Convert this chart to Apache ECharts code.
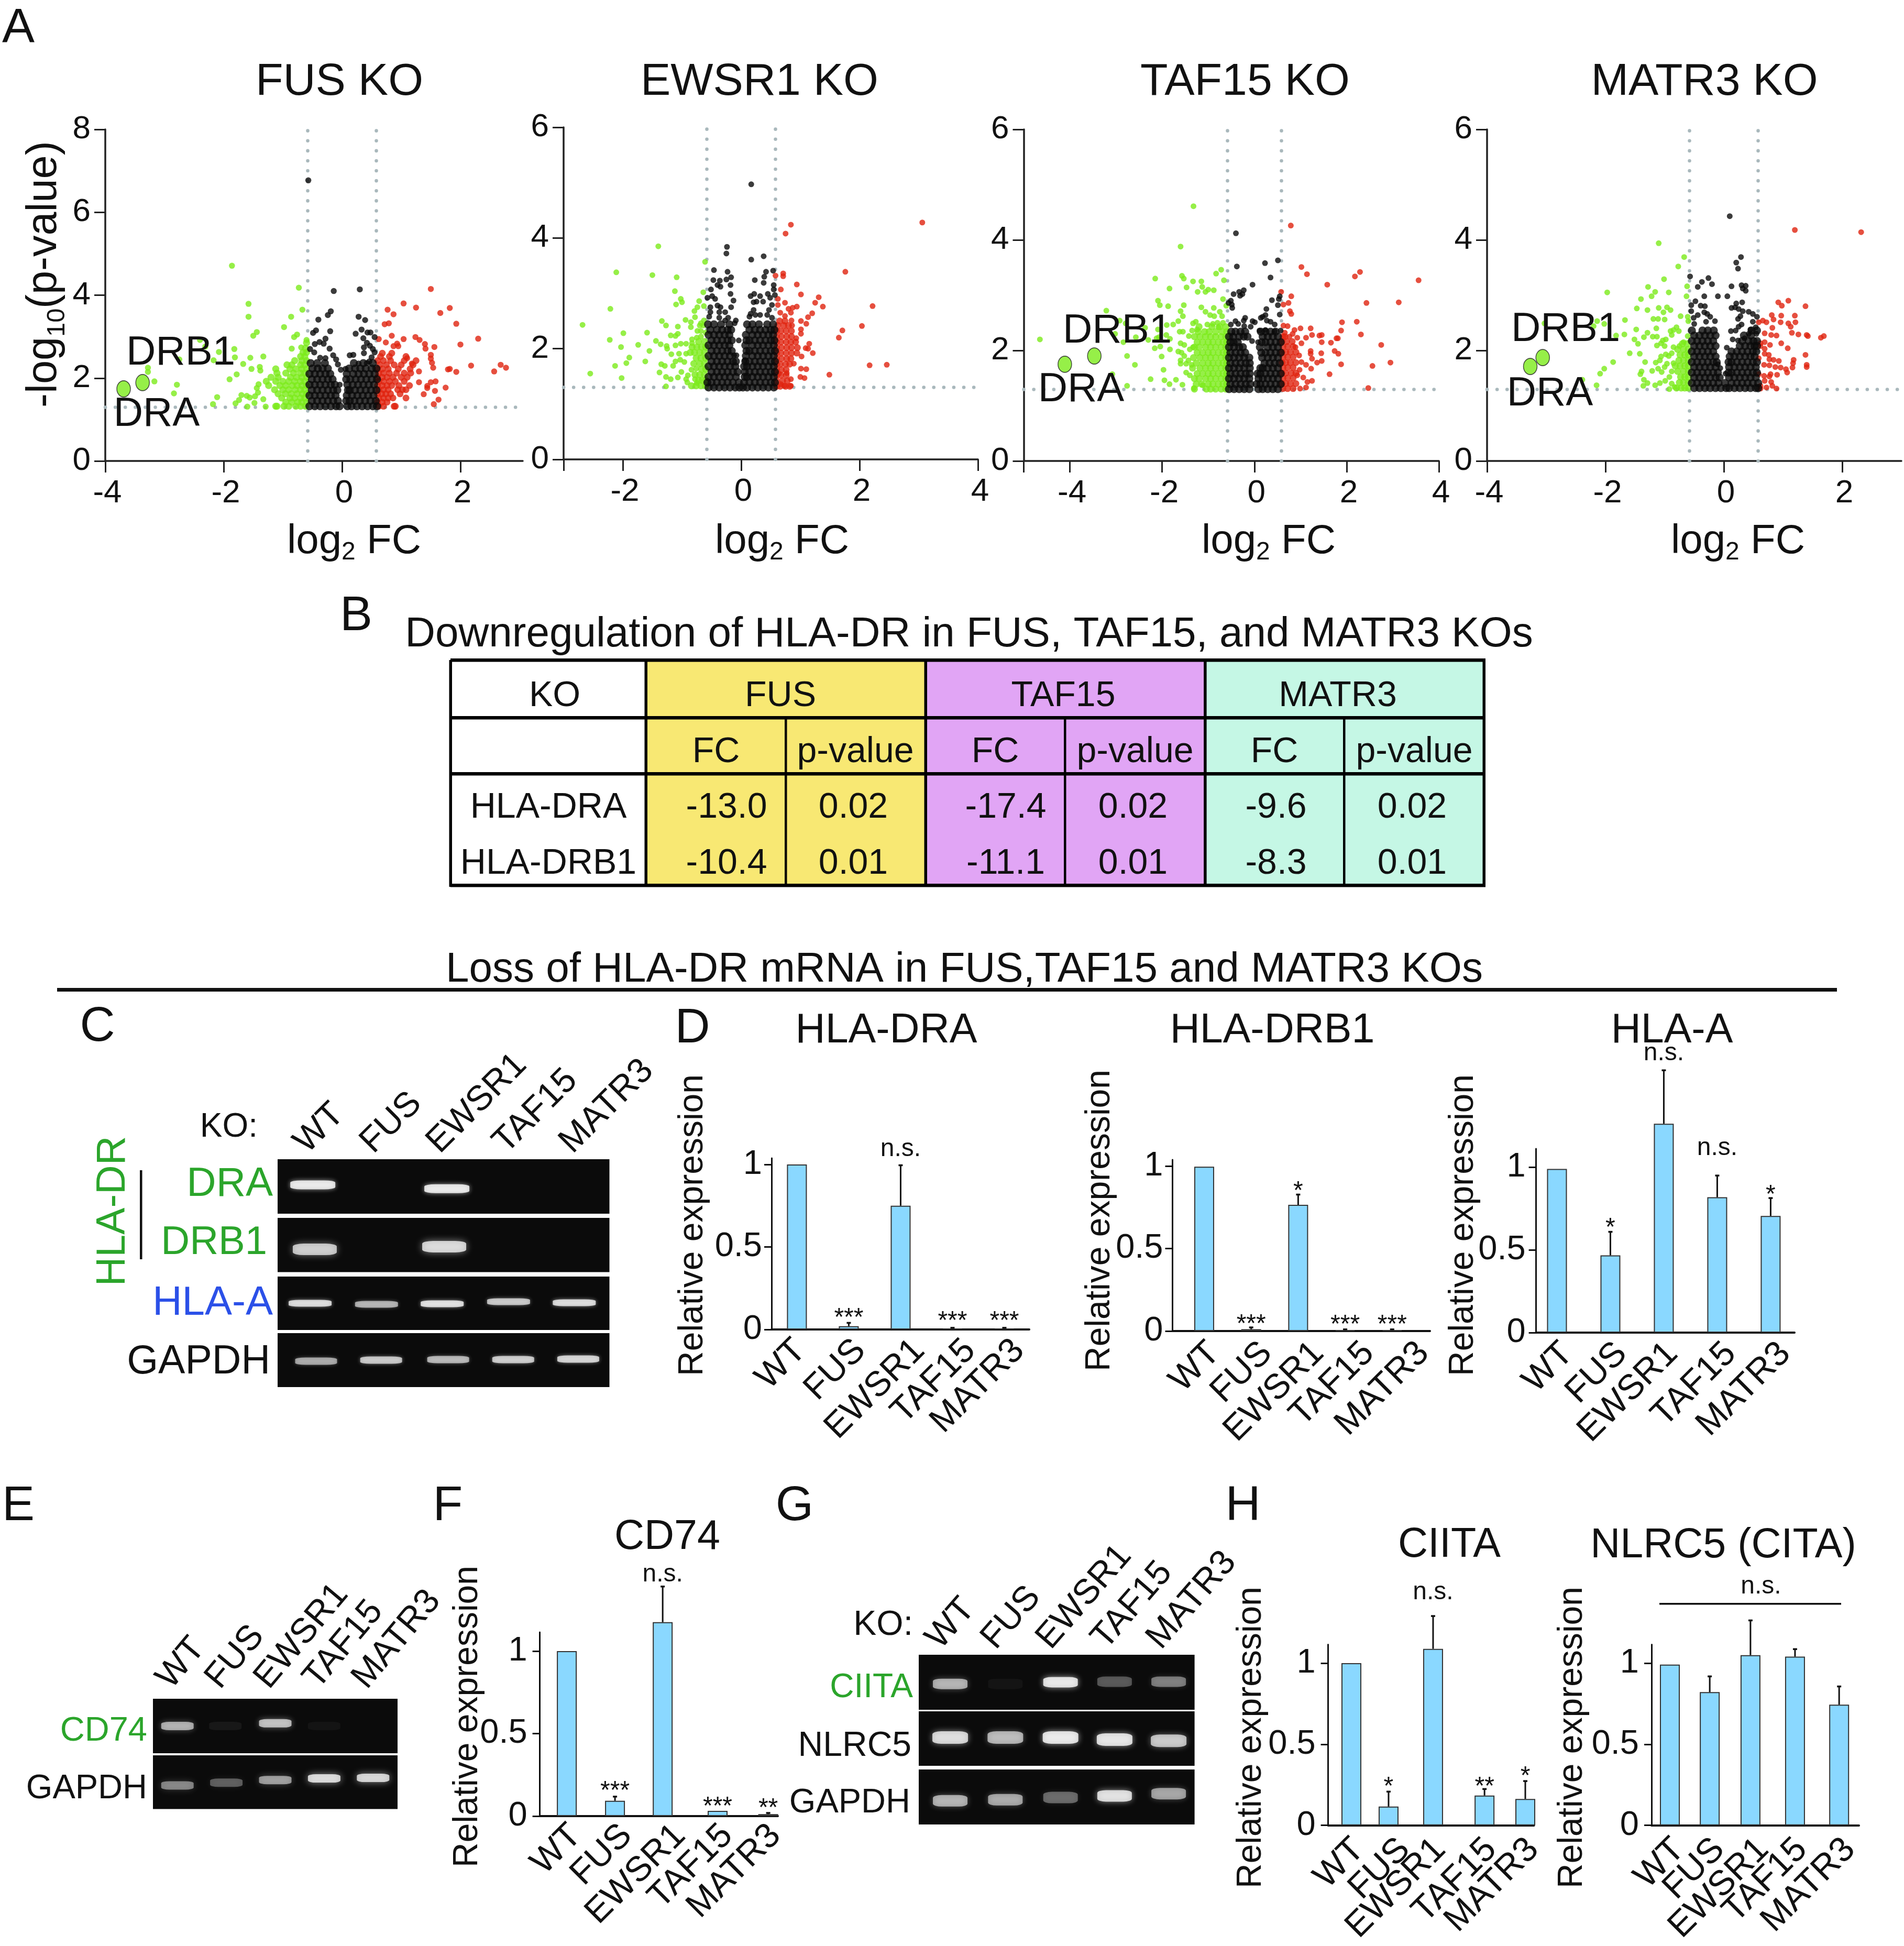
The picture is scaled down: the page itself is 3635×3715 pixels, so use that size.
<!DOCTYPE html>
<html><head><meta charset="utf-8">
<style>html,body{margin:0;padding:0;background:#fff}#c{width:3635px;height:3715px}</style>
<script src="https://cdn.jsdelivr.net/npm/echarts@6/dist/echarts.min.js"></script>
</head><body><div id="c"></div>
<script>
const FONT='"Liberation Sans"';
const laneNames=['WT','FUS','EWSR1','TAF15','MATR3'];
// ---------- volcano data (log2FC, -log10 p)
const fusGreen=[[-1.86,4.71],[-.73,4.18],[-.67,3.65],[-1.58,3.79],[-1.58,3.48],[-.86,3.48],[-.98,3.23],[-1.44,3.11],[-1.5,3.02],[-2.4,2.92],[-.81,2.99],[-.76,3.05],[-.6,2.92],[-.85,2.71],[-.69,2.74],[-1.82,2.7],[-1.81,2.5],[-2.08,2.63],[-2.31,2.76],[-2.17,2.43],[-2.75,2.45],[-1.33,2.52],[-1.55,2.49],[-1.67,2.34],[-3.28,2.25],[-3.28,2.15],[-3.17,1.92],[-2.79,1.84],[-2.84,1.63],[-1.9,1.97],[-1.78,2.09],[-2.11,1.54],[-2.18,1.37],[-1.8,1.39],[-1.74,1.47],[-1.7,1.59],[-1.61,1.57],[-1.56,1.53],[-1.6,1.31],[-1.48,1.4],[-1.47,1.56],[-1.42,1.65],[-1.44,1.76],[-1.41,1.85],[-1.33,1.49],[-1.29,1.31],[-1.53,2.22],[-1.39,2.27],[-1.38,2.18]];
const fusGreenRows=[[1.32,-.62,-.7,-.78,-.9,-.98,-1.1,-1.12],[1.42,-.6,-.68,-.75,-.85,-.95],[1.52,-.63,-.7,-.8,-.88,-1.02],[1.62,-.6,-.67,-.76,-.86,-.96,-1.08],[1.72,-.63,-.7,-.79,-.9,-1,-1.14],[1.82,-.6,-.68,-.76,-.84,-.95,-1.05,-1.24],[1.92,-.63,-.7,-.8,-.9,-1,-1.12,-1.28],[2.02,-.6,-.68,-.77,-.87,-1.08,-1.2],[2.12,-.63,-.7,-.82,-.95,-1.1],[2.22,-.6,-.68,-.78,-.88,-1.12],[2.32,-.63,-.7,-.85,-.93],[2.42,-.6,-.68,-.8],[2.52,-.63,-.7],[2.62,-.6,-.66],[2.72,-.62],[2.85,-.6]];
const fusBlack=[[-.57,6.77],[-.14,4.1],[.3,4.14],[-.19,3.61],[-.24,3.52],[-.4,3.41],[.28,3.48],[.39,3.4],[.33,3.17],[-.2,3.13],[-.44,3.15],[-.49,3.09],[.23,3.07],[.43,3.1],[.48,3.1],[.36,2.96],[.55,2.99],[-.28,2.95],[-.31,2.83],[-.38,2.87],[-.46,2.82],[.42,2.85],[.47,2.78],[.37,2.74],[.52,2.7],[.55,2.62],[-.21,2.71],[-.54,2.7],[-.47,2.62],[-.37,2.49],[-.28,2.48],[-.15,2.55],[-.1,2.45],[-.07,2.33],[-.02,2.2],[.13,2.55],[.19,2.56],[.37,2.6],[.5,2.5],[.46,2.4],[-.04,1.84],[.06,2.22],[.42,2.36],[.28,2.35]];
const fusBlackRows=[[1.32,-.55,-.46,-.37,-.28,-.19,-.1,-.04,.09,.16,.25,.34,.43,.52,.59],[1.45,-.51,-.42,-.33,-.24,-.15,-.07,.07,.13,.21,.3,.39,.48,.57],[1.58,-.55,-.46,-.37,-.28,-.19,-.11,.08,.17,.26,.35,.44,.53],[1.71,-.51,-.42,-.33,-.24,-.15,-.08,.1,.13,.22,.31,.4,.49,.58],[1.84,-.55,-.46,-.37,-.28,-.19,-.12,.09,.18,.27,.36,.45,.54],[1.97,-.51,-.42,-.33,-.24,-.16,.07,.14,.23,.32,.41,.5,.59],[2.1,-.55,-.46,-.37,-.28,-.2,.08,.19,.28,.37,.46,.55],[2.23,-.5,-.41,-.33,-.24,.12,.22,.31,.4,.5,.58],[2.36,-.53,-.42,-.29,.2,.36,.52]];
const fusRed=[[1.5,4.15],[1.04,3.8],[1.25,3.7],[.77,3.65],[.87,3.54],[1.82,3.69],[1.66,3.57],[1.93,3.31],[.79,3.32],[.72,3.3],[.84,3.02],[1.04,2.94],[1.24,2.99],[1.31,2.92],[2.3,2.95],[2,2.81],[1.4,2.82],[1.56,2.75],[1.41,2.71],[.62,2.94],[.74,2.86],[.93,2.83],[.87,2.77],[.95,2.77],[2.68,2.32],[2.77,2.25],[2.57,2.16],[2.18,2.3],[1.82,2.22],[1.79,2.21],[1.93,2.15],[1.5,2.56],[1.5,2.47],[1.52,2.37],[1.54,2.25],[1.3,2.16],[1.5,1.9],[1.58,1.92],[1.44,1.81],[1.44,1.76],[1.75,1.77],[1.57,1.69],[1.38,1.61],[1.63,1.48],[1.55,1.37],[1.3,1.9],[1.18,2.35],[1.1,2.48]];
const fusRedRows=[[1.32,.62,.7,.88,.9],[1.42,.6,.68,.76],[1.52,.62,.7,.78,.86,1.08],[1.62,.6,.67,.74,.82,.98],[1.72,.62,.7,.78,.94,1.02,1.08],[1.82,.6,.68,.76,.84,.96,1.14],[1.92,.62,.7,.8,.9,1.05],[2.02,.6,.68,.76,.86,1,1.1],[2.12,.62,.7,.8,.92,1.05,1.16],[2.22,.6,.68,.78,.95,1.15],[2.32,.64,.75,.88,1,1.2],[2.42,.6,.7,.82,1.05,1.25],[2.52,.65,.8,1.08],[2.6,.68,.84]];
const fusHighlight=[[-3.69,1.74],[-3.37,1.89]];

const ewsGreen=[[-1.4,3.85],[-.61,3.57],[-2.11,3.38],[-1.5,3.33],[-1.09,3.29],[-1.12,3.04],[-.64,3.02],[-1.02,2.9],[-1,2.84],[-1.1,2.8],[-.71,2.86],[-.74,2.75],[-.63,2.77],[-2.21,2.72],[-.79,2.68],[-.78,2.57],[-2.68,2.43],[-1.34,2.5],[-1.27,2.42],[-.94,2.52],[-.85,2.48],[-.85,2.39],[-1.07,2.4],[-.63,2.51],[-.68,2.46],[-.7,2.42],[-.64,2.42],[-1.99,2.28],[-1.59,2.29],[-.74,2.32],[-.68,2.32],[-.6,2.29],[-1.19,2.24],[-1.11,2.23],[-1.07,2.27],[-2.22,2.16],[-1.44,2.14],[-.83,2.17],[-.75,2.2],[-.68,2.22],[-1.36,2.08],[-1.74,2.07],[-2.03,2.03],[-1.11,2.06],[-1.02,2.09],[-.93,2.09],[-.83,2.1],[-1.26,2.05],[-1.25,2],[-1.55,1.96],[-1.18,1.9],[-1.05,1.91],[-.93,1.91],[-1.89,1.84],[-1.62,1.77],[-1.94,1.74],[-2.13,1.69],[-1.35,1.72],[-1.29,1.69],[-1.15,1.69],[-1.11,1.77],[-1.03,1.8],[-.96,1.76],[-2.55,1.55],[-1.38,1.57],[-1.01,1.58],[-.84,1.62],[-.76,1.64],[-2.02,1.47],[-1.27,1.49],[-1.19,1.45],[-1.07,1.48],[-.9,1.52],[-.93,1.45],[-.91,1.39],[-.78,1.45],[-.75,1.38],[-1.27,1.32]];
const ewsGreenRows=[[1.33,-.6,-.68,-.76,-.84],[1.43,-.6,-.66,-.72],[1.53,-.62,-.7,-.78],[1.63,-.6,-.67],[1.73,-.62,-.7,-.8],[1.83,-.6,-.68,-.76],[1.93,-.62,-.7,-.79,-.86],[2.03,-.6,-.67,-.75,-.83],[2.13,-.62,-.72]];
const ewsBlack=[[.17,4.97],[-.24,3.84],[-.25,3.72],[.38,3.67],[.17,3.61],[-.46,3.42],[-.23,3.39],[.42,3.39],[.54,3.41],[-.17,3.29],[.39,3.3],[-.47,3.24],[-.36,3.23],[-.25,3.25],[.23,3.24],[.38,3.19],[-.4,3.15],[-.35,3.12],[-.18,3.15],[.55,3.15],[-.51,3.07],[.55,3.07],[-.18,2.99],[.22,2.99],[.16,2.95],[.45,2.99],[.57,2.97],[-.49,2.95],[.49,2.92],[.32,2.95],[.37,2.85],[.26,2.85],[.21,2.84],[-.57,2.92],[-.44,2.9],[-.13,2.87],[-.4,2.78],[-.35,2.75],[-.17,2.75],[-.52,2.75],[.52,2.79],[.21,2.7],[-.52,2.66],[-.37,2.66],[-.27,2.66],[.47,2.7],[.16,2.63],[.32,2.61],[.24,2.61],[.44,2.61],[.14,2.58],[.52,2.56],[-.54,2.58],[-.37,2.56],[-.22,2.56],[-.09,2.51],[-.11,2.46],[-.27,2.51],[-.04,2.15],[.06,1.79],[-.08,1.88],[-.12,1.88]];
const ewsBlackRows=[[1.3,-.55,-.46,-.37,-.28,-.19,-.1,-.03,.03,.1,.19,.28,.37,.46,.55],[1.39,-.57,-.5,-.41,-.32,-.23,-.14,-.04,.05,.14,.23,.32,.41,.5,.57],[1.49,-.55,-.46,-.37,-.28,-.19,-.09,.06,.1,.19,.28,.37,.46,.55],[1.58,-.5,-.41,-.32,-.23,-.14,-.06,.06,.14,.23,.32,.41,.5,.57],[1.68,-.55,-.46,-.37,-.28,-.19,-.1,.05,.1,.19,.28,.37,.46,.55],[1.77,-.5,-.41,-.32,-.23,-.14,-.09,.07,.14,.23,.32,.41,.5,.57],[1.87,-.55,-.46,-.37,-.28,-.19,.08,.19,.28,.37,.46,.55],[1.96,-.5,-.41,-.32,-.23,-.16,.09,.14,.23,.32,.41,.5,.57],[2.06,-.55,-.46,-.37,-.28,-.2,.07,.19,.28,.37,.46,.55],[2.15,-.5,-.41,-.32,-.23,-.16,.09,.14,.23,.32,.41,.5,.56],[2.25,-.55,-.46,-.37,-.28,-.2,.08,.19,.28,.37,.46,.54],[2.34,-.52,-.41,-.32,-.23,-.17,.14,.23,.32,.41,.5,.56],[2.44,-.56,-.46,-.34,-.2,.1,.19,.3,.44,.54]];
const ewsRed=[[3.06,4.28],[.84,4.24],[.75,4.08],[1.76,3.39],[.58,3.32],[.71,3.36],[.71,3.31],[.94,3.16],[.67,3.07],[1.01,2.98],[1.31,2.93],[1.25,2.83],[1.38,2.76],[2.22,2.77],[.74,2.83],[.62,2.9],[.62,2.79],[.8,2.72],[.87,2.74],[.94,2.76],[.66,2.65],[.84,2.65],[.74,2.59],[1.2,2.64],[1.13,2.57],[1.01,2.5],[1.1,2.45],[.85,2.51],[.86,2.42],[1.01,2.35],[1.01,2.27],[2.04,2.41],[1.71,2.33],[1.65,2.2],[.93,2.19],[1.15,2.09],[1.09,2.01],[1.13,2],[1.21,1.92],[1.02,1.86],[.89,1.73],[1.01,1.64],[1.1,1.63],[2.17,1.7],[2.46,1.71],[1.49,1.53],[1,1.49],[1.07,1.47],[.84,1.45],[.77,1.56],[.64,1.55],[.67,1.36],[.73,1.33],[.84,1.33]];
const ewsRedRows=[[1.32,.6,.66,.75,.82],[1.42,.6,.7,.78],[1.52,.6,.67,.76],[1.62,.6,.68,.76],[1.72,.6,.66,.75,.82],[1.82,.6,.68,.77,.84],[1.92,.6,.67,.76,.85,.94],[2.02,.6,.68,.77,.85,.95],[2.12,.6,.67,.76,.84,.92],[2.22,.6,.68,.77,.85],[2.32,.6,.67,.76,.85],[2.42,.62,.72,.8],[2.5,.65,.74]];

const tafGreen=[[-1.32,4.61],[-1.6,3.88],[-.72,3.46],[-.83,3.39],[-.66,3.27],[-1.57,3.35],[-1.53,3.3],[-1.33,3.25],[-1.15,3.25],[-2.15,3.3],[-1.47,3.14],[-1.13,3.15],[-1.84,3.12],[-1.23,3.06],[-1.06,3.06],[-1,3.1],[-.88,3.09],[-2.09,2.9],[-2.05,2.82],[-1.87,2.8],[-1.53,2.82],[-1.15,2.78],[-.88,2.77],[-.68,2.93],[-.61,2.81],[-1.6,2.71],[-3.21,2.72],[-1.06,2.7],[-1.55,2.62],[-.96,2.64],[-.87,2.62],[-1.65,2.53],[-1.76,2.47],[-1.9,2.46],[-2.79,2.49],[-2.92,2.54],[-2.37,2.41],[-2.09,2.38],[-3.02,2.3],[-4.65,2.2],[-2.57,2.24],[-2.84,2.15],[-2.3,2.19],[-2.12,2.22],[-2.07,2.24],[-1.91,2.28],[-1.83,2.21],[-2.16,2.04],[-2.04,2.07],[-1.83,2.02],[-2.76,1.9],[-2.59,1.74],[-2.01,1.89],[-3.08,1.57],[-1.97,1.65],[-2.25,1.48],[-1.95,1.46],[-1.7,1.47],[-1.84,1.39],[-1.56,1.38],[-2.76,1.36],[-1.48,1.6],[-1.4,1.55],[-1.31,1.32],[-1.12,1.37],[-1.6,2.13],[-1.52,2.1],[-1.62,2.34],[-1.55,2.34],[-1.42,2.26],[-1.65,1.98],[-1.58,1.96],[-1.52,1.9],[-1.6,1.82],[-1.6,1.76],[-1.48,1.76],[-1.36,1.74],[-1.43,1.82],[-1.4,2.02],[-1.33,2.06],[-1.33,2.49],[-1.27,2.52],[-1.35,2.36],[-1.24,2.38],[-.75,2.7],[-.7,2.62],[-.8,2.5],[-.9,2.48],[-1.02,2.47],[-.78,2.42],[-.68,2.5]];
const tafGreenRows=[[1.3,-.62,-.72,-.84,-.95,-1.04,-1.3],[1.39,-.6,-.68,-.78,-.9,-1,-1.14,-1.26],[1.49,-.62,-.72,-.84,-.95,-1.06,-1.2,-1.3],[1.58,-.6,-.68,-.78,-.9,-1,-1.12,-1.24],[1.68,-.62,-.72,-.84,-.95,-1.06,-1.18,-1.34],[1.77,-.6,-.68,-.78,-.9,-1,-1.12,-1.26],[1.87,-.62,-.72,-.84,-.95,-1.06,-1.18,-1.32],[1.96,-.6,-.68,-.78,-.9,-1,-1.12,-1.24],[2.06,-.62,-.72,-.84,-.95,-1.06,-1.2,-1.3],[2.15,-.6,-.68,-.78,-.9,-1,-1.12,-1.24],[2.25,-.62,-.72,-.84,-.95,-1.06,-1.18,-1.3],[2.34,-.6,-.7,-.84,-.98,-1.08,-1.22],[2.43,-.62,-.75,-.92,-1.2]];
const tafBlack=[[-.4,4.12],[-.38,3.52],[.51,3.63],[.23,3.58],[.35,3.32],[-.04,3.19],[-.23,3.09],[-.33,3.06],[-.45,3.02],[-.31,2.99],[-.26,3.02],[.55,2.98],[.53,2.93],[.38,2.91],[-.51,2.9],[-.56,2.86],[-.49,2.83],[-.48,2.77],[.51,2.82],[.26,2.75],[.55,2.65],[.24,2.64],[.18,2.61],[.14,2.59],[-.2,2.59],[-.23,2.54],[-.41,2.53],[.27,2.54],[.35,2.52],[-.04,2.53],[.01,2.51],[-.08,2.43],[.44,2.47],[-.51,2.47],[-.35,2.48],[-.22,2.44],[.11,2.36],[.24,2.37],[.57,2.36],[.44,2.35],[-.05,2.17],[.08,2.15]];
const tafBlackRows=[[1.3,-.55,-.44,-.33,-.22,-.11,.09,.18,.29,.4,.51],[1.39,-.52,-.41,-.3,-.19,-.09,.05,.13,.24,.35,.46,.57],[1.49,-.55,-.44,-.33,-.22,-.11,.09,.18,.29,.4,.51],[1.58,-.52,-.41,-.3,-.19,-.1,.07,.13,.24,.35,.46,.57],[1.68,-.55,-.44,-.33,-.22,-.1,.13,.18,.29,.4,.51],[1.77,-.52,-.41,-.3,-.19,-.1,.22,.33,.44,.55],[1.87,-.55,-.44,-.33,-.22,-.11,.17,.29,.4,.51],[1.96,-.52,-.41,-.3,-.2,.15,.24,.35,.46,.57],[2.06,-.55,-.44,-.33,-.25,.12,.29,.4,.51],[2.15,-.52,-.45,-.36,.16,.24,.35,.46,.57],[2.25,-.55,-.46,-.33,-.23,-.15,.18,.29,.4,.51],[2.34,-.5,-.41,-.3,-.2,.14,.24,.35,.46]];
const tafRed=[[.79,4.26],[1.02,3.51],[1.14,3.38],[2.29,3.42],[2.18,3.34],[3.56,3.27],[1.58,3.19],[.58,3.06],[.8,2.98],[2.43,2.86],[3.13,2.87],[.74,2.86],[.63,2.83],[.77,2.71],[.8,2.66],[1.9,2.51],[2.22,2.52],[.63,2.45],[.72,2.44],[1.88,2.36],[1.22,2.4],[1,2.4],[2.31,2.29],[.87,2.37],[.83,2.3],[1.25,2.28],[1.41,2.27],[1.46,2.28],[.66,2.32],[1.78,2.22],[1.81,2.22],[1.12,2.23],[.76,2.25],[.93,2.23],[1.46,2.15],[1.66,2.14],[2.75,2.1],[1.02,2.13],[.89,2.06],[1.74,1.99],[1.82,1.94],[1.22,1.99],[1.45,1.95],[1.22,1.94],[.97,1.91],[1.88,1.75],[1.46,1.81],[1.36,1.78],[1.25,1.85],[1.12,1.74],[2.95,1.78],[2.56,1.72],[1.23,1.67],[1.02,1.79],[.98,1.65],[1.63,1.57],[.93,1.55],[1.06,1.51],[1.25,1.45],[1.15,1.43],[1.12,1.33],[2.47,1.32],[.99,1.31]];
const tafRedRows=[[1.31,.62,.72,.84],[1.4,.6,.68,.78,.9],[1.5,.62,.72,.84],[1.59,.6,.68,.8,.9],[1.69,.62,.72,.84],[1.78,.6,.68,.78,.9],[1.88,.62,.72,.84],[1.97,.6,.68,.78,.9],[2.07,.62,.72,.84],[2.16,.6,.7,.82],[2.25,.62,.66]];
const tafHighlight=[[-4.11,1.75],[-3.47,1.9]];

const matGreen=[[-1.1,3.94],[-.67,3.69],[-.77,3.52],[-1.01,3.29],[-1.28,3.15],[-.62,3.16],[-1.97,3.05],[-1.16,3.06],[-.93,3.05],[-1.22,2.98],[-.63,2.98],[-1.4,2.93],[-1.1,2.77],[-.96,2.78],[-.9,2.73],[-1.47,2.76],[-1.29,2.73],[-1.02,2.69],[-.73,2.62],[-.61,2.61],[-1.19,2.57],[-1.11,2.57],[-1,2.56],[-1.67,2.55],[-.6,2.53],[-3.03,2.49],[-2.14,2.53],[-2.2,2.44],[-2.02,2.48],[-1.48,2.38],[-1.14,2.4],[-.8,2.42],[-.85,2.37],[-.9,2.35],[-.76,2.35],[-1.29,2.32],[-1.82,2.27],[-1.68,2.29],[-1.35,2.24],[-1.2,2.25],[-1.13,2.25],[-.88,2.28],[-.61,2.26],[-1.51,2.2],[-.98,2.2],[-1.03,2.18],[-1.45,2.12],[-1.13,2.09],[-1.06,2.13],[-1,2.08],[-.68,2.15],[-.85,2.06],[-.75,2.08],[-1.59,1.95],[-1.42,1.94],[-1.87,1.79],[-2.02,1.67],[-2.09,1.58],[-2.39,1.47],[-2.15,1.37],[-1.33,1.79],[-1.15,1.78],[-1.06,1.89],[-1.08,1.82],[-.93,1.9],[-1.21,1.63],[-1.39,1.62],[-1.41,1.57],[-1.11,1.67],[-1.05,1.61],[-1.35,1.47],[-1.29,1.41],[-1.36,1.36],[-1.16,1.37],[-1.08,1.41],[-.99,1.45],[-.92,1.3],[-.88,1.62],[-.96,1.76],[-1,1.7],[-.85,1.77],[-.92,1.52],[-.88,1.4],[-.83,1.34],[-.98,1.93],[-.88,1.95]];
const matGreenRows=[[1.32,-.6,-.66,-.72,-.8],[1.42,-.6,-.68,-.75],[1.52,-.6,-.66,-.73],[1.62,-.6,-.68,-.78],[1.72,-.6,-.66,-.74,-.82],[1.82,-.6,-.68,-.76],[1.92,-.6,-.66,-.74],[2.02,-.6,-.68,-.78],[2.12,-.62,-.7]];
const matBlack=[[.1,4.43],[.29,3.69],[.21,3.59],[.24,3.48],[-.57,3.34],[-.26,3.31],[-.37,3.24],[-.2,3.2],[-.44,3.15],[.13,3.16],[.3,3.18],[.37,3.17],[.32,3.12],[.37,3.08],[-.33,2.98],[-.1,2.98],[.06,2.98],[-.48,2.89],[.31,2.87],[.21,2.85],[-.55,2.82],[-.39,2.81],[-.32,2.8],[.13,2.77],[.19,2.78],[.25,2.75],[-.55,2.71],[-.33,2.69],[.32,2.71],[.42,2.7],[.49,2.66],[.56,2.61],[-.28,2.66],[-.44,2.64],[-.23,2.61],[-.51,2.59],[.28,2.62],[.24,2.57],[-.15,2.53],[.49,2.52],[-.5,2.48],[-.3,2.52],[.3,2.47],[.25,2.43],[.54,2.42],[.45,2.38],[.12,2.35],[.2,2.36],[.55,2.3],[.42,2.3],[.15,2.2],[.24,2.18],[.05,2.05],[.35,2.22],[-.1,1.75],[-.06,1.68],[.03,1.58]];
const matBlackRows=[[1.32,-.5,-.41,-.32,-.23,-.14,-.05,.04,.09,.18,.27,.36,.45,.54,.58],[1.41,-.54,-.45,-.36,-.27,-.18,-.09,.02,.13,.22,.31,.4,.49,.58],[1.51,-.5,-.41,-.32,-.23,-.14,-.07,.09,.18,.27,.36,.45,.54],[1.6,-.54,-.45,-.36,-.27,-.18,-.1,.08,.13,.22,.31,.4,.49,.56],[1.7,-.5,-.41,-.32,-.23,-.14,.09,.18,.27,.36,.45,.54],[1.79,-.54,-.45,-.36,-.27,-.18,-.12,.08,.13,.22,.31,.4,.49,.56],[1.89,-.5,-.41,-.32,-.23,-.14,.1,.18,.27,.36,.45,.52],[1.98,-.54,-.45,-.36,-.27,-.18,.13,.22,.31,.4,.49,.55],[2.08,-.5,-.41,-.32,-.23,-.14,.27,.36,.45,.52,.56],[2.17,-.54,-.45,-.36,-.27,-.18,.31,.42,.5,.56],[2.27,-.5,-.41,-.32,-.23,-.14,.34,.46],[2.36,-.54,-.36,-.27,-.17,.47,.56]];
const matRed=[[1.2,4.18],[2.32,4.14],[1.09,2.9],[.92,2.87],[.98,2.81],[1.38,2.8],[.81,2.64],[.97,2.63],[1.2,2.63],[.84,2.56],[.96,2.51],[1.21,2.51],[1.09,2.49],[1.13,2.43],[.59,2.51],[.66,2.54],[.72,2.51],[.82,2.41],[.69,2.31],[.8,2.28],[.89,2.27],[1.15,2.32],[1.26,2.29],[1.4,2.28],[1.42,2.26],[1.64,2.23],[1.69,2.26],[.62,2.13],[.69,2.15],[.78,2.1],[.97,2.13],[1.08,2.04],[.62,2.08],[.69,2.03],[.69,1.94],[.76,1.92],[1.38,1.92],[.59,1.86],[.77,1.84],[.84,1.83],[.93,1.81],[1.18,1.83],[1.17,1.77],[.68,1.74],[.77,1.73],[.87,1.7],[.96,1.69],[1.4,1.74],[1.4,1.7],[1.05,1.66],[1.16,1.69],[1.07,1.6],[.79,1.57],[.9,1.56],[.77,1.53],[.59,1.57],[.68,1.54],[.69,1.45],[.8,1.43],[.62,1.36],[.72,1.33],[.82,1.36],[.89,1.31],[.62,1.31]];
const matHighlight=[[-3.27,1.71],[-3.06,1.87]];

// ---------- bar data: lane position on the axis, mean, top of error bar, mark above, label nudge
const draPos=[0,1,2,3,4], draVal=[1,.02,.75,.005,.005], draErr=[1,.04,.995,.01,.01], draSig=['','***','n.s.','***','***'], draLift=[0,21,30,24,24], draNudge=[.07,.22,.36,.34,.28];
const drbPos=[0,1,2,3,4], drbVal=[.996,.011,.765,.005,.005], drbErr=[.996,.022,.827,.01,.01], drbSig=['','***','*','***','***'], drbLift=[0,17,18,20,20], drbNudge=[.22,.33,.43,.5,.67];
const hlaPos=[0,1,2,3,4], hlaVal=[.989,.467,1.262,.818,.705], hlaErr=[.989,.609,1.585,.949,.813], hlaSig=['','*','n.s.','n.s.','*'], hlaLift=[0,19,31,51,17], hlaNudge=[.2,.21,.16,.25,.27];
const cd74Pos=[0,1,1.99,3.13,4.18], cd74Val=[1,.093,1.175,.032,.012], cd74Err=[1,.118,1.391,.035,.019], cd74Sig=['','***','n.s.','***','**'], cd74Lift=[0,22,22,18,20], cd74Nudge=[.19,.24,.36,.2,.15];
const ciitaPos=[0,.835,1.835,2.99,3.906], ciitaVal=[1,.116,1.088,.184,.163], ciitaErr=[1,.208,1.29,.224,.273], ciitaSig=['','*','n.s.','**','*'], ciitaLift=[0,21,44,16,20], ciitaNudge=[.17,.36,.16,.15,.18];
const nlrcPos=[0,.94,1.9,2.95,3.99], nlrcVal=[.991,.821,1.049,1.04,.744], nlrcErr=[.991,.918,1.263,1.086,.856], nlrcSig=['','','','',''], nlrcLift=[0,0,0,0,0], nlrcNudge=[.22,.22,.3,.16,.25];

// ---------- gel bands: [lane position, height in the row 0..1, brightness 0..1]
const gelDRA=[[.53,.53,1],[2.55,.46,1]];
const gelDRB1=[[.56,.42,.85],[2.51,.47,.92]];
const gelHLAA=[[.49,.5,.92],[1.49,.48,.72],[2.48,.49,.95],[3.48,.53,.82],[4.47,.51,.92]];
const gelGAPDH=[[.58,.48,.68],[1.56,.5,.82],[2.57,.51,.74],[3.55,.51,.84],[4.53,.52,.88]];
const gelCD74=[[.5,.5,.72],[1.48,.5,.07],[2.5,.55,.8],[3.5,.5,.05]];
const gelCD74G=[[.5,.44,.55],[1.5,.49,.38],[2.5,.54,.65],[3.5,.57,.95],[4.5,.58,.92]];
const gelCIITA=[[.57,.47,.72],[1.57,.47,.05],[2.57,.5,1],[3.55,.51,.35],[4.53,.51,.5]];
const gelNLRC5=[[.57,.52,.92],[1.57,.52,.75],[2.57,.52,1],[3.55,.48,.98],[4.53,.46,.82]];
const gelGAPDH2=[[.57,.43,.72],[1.57,.45,.68],[2.57,.49,.42],[3.55,.52,.95],[4.53,.56,.66]];

// ---------- table B
const tableHeads=['KO','FUS','TAF15','MATR3'];
const tableSub=['FC','p-value','FC','p-value','FC','p-value'];
const tableRowNames=['HLA-DRA','HLA-DRB1'];
const tableDRA=['-13.0','0.02','-17.4','0.02','-9.6','0.02'];
const tableDRB1=['-10.4','0.01','-11.1','0.01','-8.3','0.01'];

const fromRows=r=>r.flatMap(([y,...xs])=>xs.map(x=>[x,y]));
const C={green:'#7CEB1A',black:'#0A0A0A',red:'#E0230F',grey:'#A9B8BC',bar:'#8AD8FF',ink:'#111'};
const grids=[],xAxes=[],yAxes=[],series=[],gfx=[];
function T(text,x,y,size,o={}){const r=o.rot||0;gfx.push({type:'text',z:100,x:r?x+5:x,y:r?y:y+5,rotation:r,silent:true,style:{text,x:0,y:0,fontSize:size,fontFamily:FONT,fill:o.fill||C.ink,textAlign:o.align||'center',textVerticalAlign:'middle'}});}
function R(x,y,w,h,fill){gfx.push({type:'rect',z:99,silent:true,shape:{x,y,width:w,height:h},style:{fill}});}
function addGrid(l,t,w,h,extra={}){grids.push(Object.assign({left:l,top:t,width:w,height:h,containLabel:false},extra));return grids.length-1;}
const axisLine={show:true,onZero:false,lineStyle:{color:'#222',width:3.5}};

function volcano(p){
 const g=addGrid(p.left,p.top,p.width,p.height);
 xAxes.push({type:'value',gridIndex:g,min:p.xMin,max:p.xMax,splitLine:{show:false},axisLine,
  axisTick:{length:22,lineStyle:{color:'#222',width:3},customValues:p.xTicks},
  axisLabel:{customValues:p.xLabels,fontSize:62,fontFamily:FONT,color:C.ink,margin:31,padding:[0,0,0,8],showMinLabel:true,showMaxLabel:true,formatter:v=>String(v)}});
 yAxes.push({type:'value',gridIndex:g,min:0,max:p.yMax,interval:2,splitLine:{show:false},axisLine,
  axisTick:{length:21,lineStyle:{color:'#222',width:3}},
  axisLabel:{fontSize:62,fontFamily:FONT,color:C.ink,margin:28,padding:[0,0,16,0]}});
 const base={type:'scatter',xAxisIndex:g,yAxisIndex:g,symbolSize:p.dot||11.5,silent:true,z:3};
 series.push({type:'scatter',xAxisIndex:g,yAxisIndex:g,data:[],z:1,silent:true,markLine:{z:1,silent:true,symbol:'none',label:{show:false},
   lineStyle:{color:C.grey,width:6.5,type:[.1,19],cap:'round'},data:[{xAxis:-.58},{xAxis:.58},{yAxis:1.3}]}});
 series.push({...base,name:'down',itemStyle:{color:C.green},data:p.green});
 series.push({...base,name:'down dense',symbolSize:13.5,itemStyle:{color:C.green},data:fromRows(p.greenRows)});
 series.push({...base,name:'up',itemStyle:{color:C.red},data:p.red});
 if(p.redRows)series.push({...base,name:'up dense',symbolSize:13,itemStyle:{color:C.red},data:fromRows(p.redRows)});
 series.push({...base,name:'ns',z:4,itemStyle:{color:C.black},data:p.black});
 series.push({...base,name:'ns dense',z:4,symbolSize:15.5,itemStyle:{color:C.black},data:fromRows(p.blackRows)});
 if(p.hi)series.push({...base,name:'HLA-DR',z:5,symbolSize:[26,31],itemStyle:{color:C.green,borderColor:'#222',borderWidth:1.6},data:p.hi});
}
volcano({left:201,top:247,width:797,height:633,xMin:-4,xMax:3.053,yMax:8,xTicks:[-4,-2,0,2],xLabels:[-4,-2,0,2],
 green:fusGreen,greenRows:fusGreenRows,black:fusBlack,blackRows:fusBlackRows,red:fusRed,redRows:fusRedRows,hi:fusHighlight});
volcano({left:1076,top:243,width:791,height:634,xMin:-3,xMax:4,yMax:6,xTicks:[-3,-2,0,2,4],xLabels:[-2,0,2,4],dot:11,
 green:ewsGreen,greenRows:ewsGreenRows,black:ewsBlack,blackRows:ewsBlackRows,red:ewsRed,redRows:ewsRedRows});
volcano({left:1954.5,top:247,width:792.5,height:633,xMin:-5,xMax:4,yMax:6,xTicks:[-5,-4,-2,0,2,4],xLabels:[-4,-2,0,2,4],dot:11,
 green:tafGreen,greenRows:tafGreenRows,black:tafBlack,blackRows:tafBlackRows,red:tafRed,redRows:tafRedRows,hi:tafHighlight});
volcano({left:2839,top:247,width:791,height:633,xMin:-4,xMax:3,yMax:6,xTicks:[-4,-2,0,2],xLabels:[-4,-2,0,2],dot:11,
 green:matGreen,greenRows:matGreenRows,black:matBlack,blackRows:matBlackRows,red:matRed,hi:matHighlight});

function barPanel(p){
 const g=addGrid(p.left,p.top,p.width,p.height);
 const lp=p.pos.map((x,i)=>x+p.nudge[i]);
 xAxes.push({type:'value',gridIndex:g,min:p.xMin,max:p.xMax,splitLine:{show:false},axisLine:{show:true,onZero:false,lineStyle:{color:'#111',width:4}},
  axisTick:{show:false},
  axisLabel:{customValues:[p.xMin,...lp,p.xMax],rotate:45,fontSize:67,fontFamily:FONT,color:C.ink,margin:p.margin,hideOverlap:false,showMinLabel:false,showMaxLabel:false,formatter:v=>laneNames[lp.findIndex(q=>Math.abs(q-v)<1e-6)]||''}});
 yAxes.push({type:'value',gridIndex:g,min:0,max:p.yMax,splitLine:{show:false},axisLine:{show:true,onZero:false,lineStyle:{color:'#111',width:3}},
  axisTick:{length:14,lineStyle:{color:'#111',width:3},customValues:[0,.5,1]},
  axisLabel:{customValues:[0,.5,1],fontSize:65,fontFamily:FONT,color:C.ink,margin:p.lm||20,padding:[0,0,16,0],showMinLabel:true,showMaxLabel:true,formatter:v=>String(v)}});
 series.push({type:'bar',xAxisIndex:g,yAxisIndex:g,barWidth:38,clip:false,silent:true,z:2,
  itemStyle:{color:C.bar,borderColor:'#333',borderWidth:2},data:p.pos.map((x,i)=>[x,p.val[i]])});
 series.push({type:'custom',xAxisIndex:g,yAxisIndex:g,clip:false,silent:true,z:3,
  encode:{x:0,y:1},data:p.pos.map((x,i)=>[x,p.val[i],p.err[i]]),
  renderItem(params,api){
   const i=params.dataIndex,x=api.value(0),a=api.coord([x,api.value(1)]),b=api.coord([x,api.value(2)]),kids=[];
   if(b[1]<a[1]-1){
    const st={stroke:'#111',lineWidth:3};
    kids.push({type:'line',shape:{x1:a[0],y1:a[1],x2:b[0],y2:b[1]},style:st});
    kids.push({type:'line',shape:{x1:b[0]-4,y1:b[1],x2:b[0]+4,y2:b[1]},style:{stroke:'#111',lineWidth:3.5}});
   }
   const s=p.sig[i];
   if(s){const star=s[0]==='*';
    kids.push({type:'text',style:{text:s,x:b[0],y:b[1]-p.lift[i]+(star?12:-1),textAlign:'center',textVerticalAlign:'middle',fontSize:48,fontFamily:FONT,fill:C.ink}});}
   return {type:'group',children:kids};
  }});
}
barPanel({left:1473,top:2211,width:492,height:327,xMin:-.489,xMax:4.48,yMax:1.038,pos:draPos,val:draVal,err:draErr,sig:draSig,lift:draLift,nudge:draNudge,margin:30,lm:18});
barPanel({left:2238.5,top:2214,width:491.5,height:327,xMin:-.674,xMax:4.805,yMax:1.038,pos:drbPos,val:drbVal,err:drbErr,sig:drbSig,lift:drbLift,nudge:drbNudge,margin:32,lm:18});
barPanel({left:2932.6,top:2193,width:493.4,height:351,xMin:-.391,xMax:4.447,yMax:1.111,pos:hlaPos,val:hlaVal,err:hlaErr,sig:hlaSig,lift:hlaLift,nudge:hlaNudge,margin:30});
barPanel({left:1030.6,top:3116,width:454.4,height:351,xMin:-.56,xMax:4.38,yMax:1.114,pos:cd74Pos,val:cd74Val,err:cd74Err,sig:cd74Sig,lift:cd74Lift,nudge:cd74Nudge,margin:27,lm:24});
barPanel({left:2535.6,top:3139.6,width:392.9,height:351,xMin:-.522,xMax:4.10,yMax:1.114,pos:ciitaPos,val:ciitaVal,err:ciitaErr,sig:ciitaSig,lift:ciitaLift,nudge:ciitaNudge,margin:36,lm:24});
barPanel({left:3153,top:3139.6,width:396,height:351,xMin:-.432,xMax:4.457,yMax:1.114,pos:nlrcPos,val:nlrcVal,err:nlrcErr,sig:nlrcSig,lift:nlrcLift,nudge:nlrcNudge,margin:36,lm:24});

function gel(p){
 const g=addGrid(p.left,p.top,p.width,p.height,{show:true,backgroundColor:'#0b0b0b',borderWidth:0});
 const lab=p.labelShift!==undefined;
 const pos=lab?[0,1,2,3,4].map(i=>i+.5+p.labelShift):[];
 xAxes.push({type:'value',gridIndex:g,min:0,max:5,position:'top',show:lab,splitLine:{show:false},axisLine:{show:false},axisTick:{show:false},
  axisLabel:{show:lab,customValues:lab?[0,...pos,5]:[],rotate:p.rot||45,fontSize:67,fontFamily:FONT,color:C.ink,margin:p.margin||22,hideOverlap:false,showMinLabel:false,showMaxLabel:false,formatter:v=>laneNames[pos.findIndex(q=>Math.abs(q-v)<1e-6)]||''}});
 yAxes.push({type:'value',gridIndex:g,min:0,max:1,show:false,splitLine:{show:false}});
 series.push({type:'scatter',xAxisIndex:g,yAxisIndex:g,silent:true,z:2,symbol:'roundRect',symbolSize:[p.bw,p.bh],
  data:p.bands.map(b=>({value:[b[0],b[1]],itemStyle:{color:`rgba(255,255,255,${b[2]})`,shadowBlur:p.blur||9,shadowColor:`rgba(255,255,255,${b[2]*.75})`}}))});
}
gel({left:530,top:2213,width:633.5,height:104,bands:gelDRA,bw:86,bh:17,labelShift:-.16,margin:22});
gel({left:530,top:2325,width:633.5,height:103.6,bands:gelDRB1,bw:84,bh:22,blur:14});
gel({left:530,top:2437,width:633.5,height:102,bands:gelHLAA,bw:82,bh:13,blur:7});
gel({left:530,top:2545,width:633.5,height:103,bands:gelGAPDH,bw:80,bh:14,blur:7});
gel({left:292,top:3243,width:467,height:104,bands:gelCD74,bw:62,bh:16,blur:12,labelShift:-.28,margin:28,rot:50});
gel({left:292,top:3351,width:467,height:102.5,bands:gelCD74G,bw:62,bh:16,blur:14});
gel({left:1754,top:3159,width:526.6,height:105,bands:gelCIITA,bw:66,bh:20,blur:12,labelShift:-.24,margin:20,rot:49});
gel({left:1754,top:3267,width:526.6,height:104,bands:gelNLRC5,bw:68,bh:24,blur:12});
gel({left:1754,top:3378,width:526.6,height:105,bands:gelGAPDH2,bw:66,bh:22,blur:12});

// ---------- text
[['A',35,50],['B',680,1172],['C',186,1956],['D',1322,1959],['E',35,2871],['F',855,2871],['G',1517,2871],['H',2373,2871]].forEach(a=>T(a[0],a[1],a[2],93));
[['FUS KO',648],['EWSR1 KO',1450],['TAF15 KO',2377],['MATR3 KO',3254]].forEach(a=>T(a[0],a[1],152,86));
function logFC(x){T('log',x,1029,78,{align:'left'});T('2',x+104,1050,48,{align:'left'});T('FC',x+152,1029,78,{align:'left'});}
[548,1365,2294,3190].forEach(logFC);
const ccw=Math.PI/2;
T('-log',80,778,81,{align:'left',rot:ccw});T('10',104,643,49,{align:'left',rot:ccw});T('(p-value)',80,589,81,{align:'left',rot:ccw});
[[345,669,'DRB1'],[299,786,'DRA'],[2133,627,'DRB1'],[2064,739,'DRA'],[2989,624,'DRB1'],[2959,747,'DRA']].forEach(a=>T(a[2],a[0],a[1],78));
T('Downregulation of HLA-DR in FUS, TAF15, and MATR3 KOs',1850,1207,80);
T('Loss of HLA-DR mRNA in FUS,TAF15 and MATR3 KOs',1841,1847,80);
R(109,1886,3398,7,'#111');

// table
const tx=[860,1233,1767,2300.6,2833], ty=[1260,1370,1477,1690];
[[1233,1767,'#F8E873'],[1767,2300.6,'#E1A5F5'],[2300.6,2833,'#C5F7E5']].forEach(c=>R(c[0],1260,c[1]-c[0],430,c[2]));
ty.forEach(y=>R(860,y-3,1976,6.5,'#000'));
tx.forEach(x=>R(x-2.5,1260,5.5,433,'#000'));
[1500,2033,2566].forEach(x=>R(x-2,1370,4.5,320,'#000'));
T(tableHeads[0],1059,1324,68);T(tableHeads[1],1490,1324,68);T(tableHeads[2],2030,1324,68);T(tableHeads[3],2554,1324,68);
const subC=[1367,1633,1900,2167,2433,2700];
tableSub.forEach((t,i)=>T(t,subC[i],1431,68));
T(tableRowNames[0],1047,1537,68);T(tableRowNames[1],1047,1644,68);
const valOff=[20,-4,20,-4,3,-4];
tableDRA.forEach((t,i)=>T(t,subC[i]+valOff[i],1537,68));
tableDRB1.forEach((t,i)=>T(t,subC[i]+valOff[i],1644,68));

// gel labels
const GR='#2BA52B';
T('HLA-DR',212,2312,77,{fill:GR,rot:ccw});R(267,2234,4.5,170,'#111');
T('KO:',492,2147,64,{align:'right'});
T('DRA',521,2256,78,{align:'right',fill:GR});T('DRB1',510,2368,76,{align:'right',fill:GR});
T('HLA-A',521,2483,78,{align:'right',fill:'#2B50E8'});T('GAPDH',516,2596,77,{align:'right'});
T('CD74',281,3300,65,{align:'right',fill:GR});T('GAPDH',281,3410,65,{align:'right'});
T('KO:',1743,3098,66,{align:'right'});T('CIITA',1743,3217,64,{align:'right',fill:GR});
T('NLRC5',1740,3329,66,{align:'right'});T('GAPDH',1738,3437,65,{align:'right'});
// bar titles and axis names
[['HLA-DRA',1692,1963],['HLA-DRB1',2429,1963],['HLA-A',3192,1963],['CD74',1274,2930],['CIITA',2767,2945],['NLRC5 (CITA)',3290,2946]].forEach(a=>T(a[0],a[1],a[2],79));
[[1318,2339],[2095,2330],[2789,2339],[888,3277],[2384,3317],[2997,3317]].forEach(a=>T('Relative expression',a[0],a[1],66,{rot:ccw}));
T('n.s.',3362,3024,48);R(3168,3060,347,3.5,'#111');

const chart=echarts.init(document.getElementById('c'),null,{renderer:'canvas',width:3635,height:3715});
chart.setOption({animation:false,backgroundColor:'#fff',grid:grids,xAxis:xAxes,yAxis:yAxes,series,graphic:{elements:gfx},tooltip:{show:false}});
</script></body></html>
